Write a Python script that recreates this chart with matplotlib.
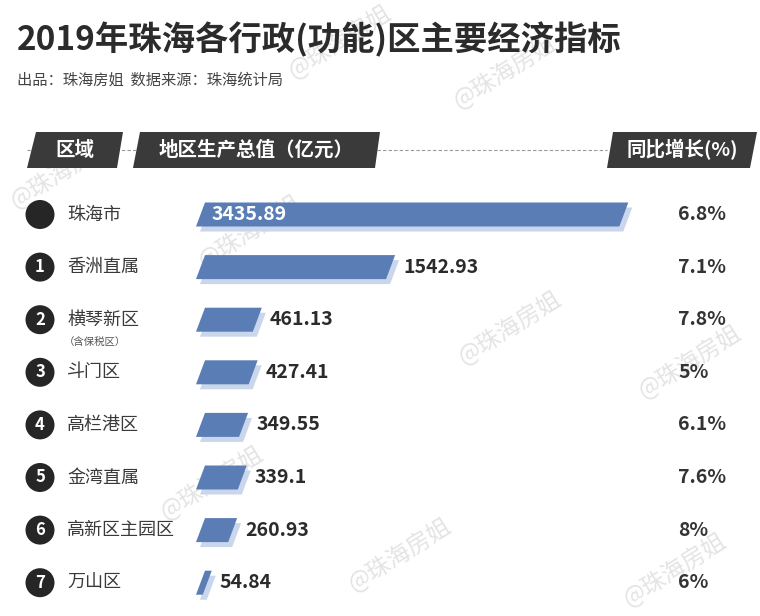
import matplotlib
matplotlib.use("Agg")
import matplotlib.pyplot as plt
from matplotlib.patches import Polygon, Circle

plt.rcParams['font.family'] = ['Noto Sans CJK SC', 'DejaVu Sans']

districts = ['珠海市', '香洲直属', '横琴新区', '斗门区', '高栏港区', '金湾直属', '高新区主园区', '万山区']
badges = ['', '1', '2', '3', '4', '5', '6', '7']
gdp = [3435.89, 1542.93, 461.13, 427.41, 349.55, 339.1, 260.93, 54.84]
gdp_labels = ['3435.89', '1542.93', '461.13', '427.41', '349.55', '339.1', '260.93', '54.84']
growth = ['6.8%', '7.1%', '7.8%', '5%', '6.1%', '7.6%', '8%', '6%']

W, H = 760, 616
dark = '#333333'
bar_col = '#5a7db5'
shadow_col = '#c9d6eb'

fig = plt.figure(figsize=(W / 100, H / 100), dpi=100)
bg = fig.add_axes([0, 0, 1, 1])
bg.set_xlim(0, W)
bg.set_ylim(H, 0)
bg.axis('off')

# watermarks
marks = [(340, 42), (505, 72), (62, 172), (250, 232), (510, 328), (690, 362),
         (212, 483), (400, 555), (675, 570)]
for mx, my in marks:
    bg.text(mx, my, '@珠海房姐', fontsize=17, color='#e4e4e4', rotation=32,
            ha='center', va='center', zorder=0)

bg.text(17, 40, '2019年珠海各行政(功能)区主要经济指标', fontsize=24, fontweight='bold',
        color='#2b2b2b', va='center')
bg.text(17, 80, '出品：珠海房姐  数据来源：珠海统计局', fontsize=11, color='#444444', va='center')

# header boxes
bg.plot([27, 607], [150, 150], ls=(0, (3, 2)), color='#999999', lw=0.8, zorder=1)
headers = [('区域', 27, 117, 36, 123),
           ('地区生产总值（亿元）', 133, 375, 140, 380),
           ('同比增长(%)', 607, 750, 613, 757)]
for txt, bl, br, tl, tr in headers:
    bg.add_patch(Polygon([(bl, 168), (tl, 132), (tr, 132), (br, 168)], closed=True,
                         facecolor='#3a3a3a', edgecolor='none', zorder=2))
    bg.text((bl + tr) / 2, 150, txt, fontsize=14, fontweight='bold', color='white',
            ha='center', va='center', zorder=3)

# bar area: value axis mapped to pixels
scale = 0.1232
x0 = 196
top, pitch = 214.5 - 26.3, 52.6
n = len(gdp)
xmax = 4100
ax = fig.add_axes([x0 / W, 1 - (top + pitch * n) / H, xmax * scale / W, pitch * n / H])
ax.set_xlim(0, xmax)
ax.set_ylim(n - 0.5, -0.5)
ax.axis('off')

h = 24 / pitch
s = 9 / scale
dx, dy = 4 / scale, 5 / pitch
for i, v in enumerate(gdp):
    pts = [(0, i + h / 2), (s, i - h / 2), (v + s, i - h / 2), (v, i + h / 2)]
    ax.add_patch(Polygon([(px + dx, py + dy) for px, py in pts], closed=True,
                         facecolor=shadow_col, edgecolor='none', zorder=1))
    ax.add_patch(Polygon(pts, closed=True, facecolor=bar_col, edgecolor='none', zorder=2))
    if i == 0:
        ax.text(16 / scale, i, gdp_labels[i], fontsize=14, fontweight='bold', color='white',
                va='center', zorder=3)
    else:
        ax.text(v + s + 8 / scale, i, gdp_labels[i], fontsize=14, fontweight='bold', color='#2b2b2b',
                va='center', zorder=3)

for i, name in enumerate(districts):
    y = 214.5 + pitch * i
    bg.add_patch(Circle((40, y), 14.5, facecolor='#262626', edgecolor='none', zorder=2))
    if badges[i]:
        bg.text(40, y, badges[i], fontsize=12, fontweight='bold', color='white',
                ha='center', va='center', zorder=3)
    bg.text(67, y, name, fontsize=13, color='#3a3a3a', va='center')
    bg.text(678, y, growth[i], fontsize=14, fontweight='bold', color=dark, va='center')
    if name == '横琴新区':
        bg.text(64, y + 22, '（含保税区）', fontsize=7.5, color='#555555', va='center')

fig.savefig('out.png', dpi=100, facecolor='white')
